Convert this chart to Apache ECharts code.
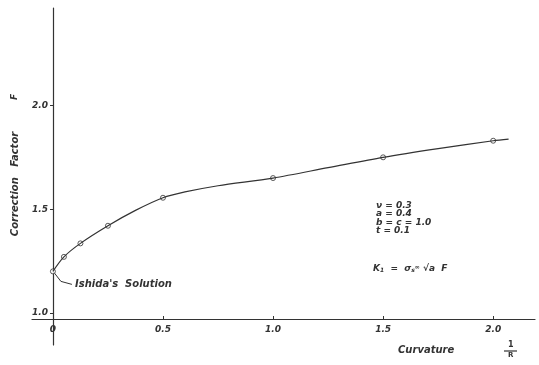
<!DOCTYPE html>
<html><head><meta charset="utf-8">
<script src="https://cdn.jsdelivr.net/npm/echarts@6/dist/echarts.min.js"></script>
<style>html,body{margin:0;padding:0;background:#fff}#c{width:539px;height:365px}</style>
</head><body><div id="c"></div>
<script>
// measured points (open circles)
const curvature = [0, 0.05, 0.125, 0.25, 0.5, 1.0, 1.5, 2.0];
const factorF = [1.20, 1.27, 1.335, 1.42, 1.555, 1.65, 1.75, 1.83];
// drawn curve
const curveX = [0, 0.05, 0.125, 0.25, 0.375, 0.5, 0.6, 0.75, 1.0, 1.25, 1.5, 1.75, 2.0, 2.07];
const curveF = [1.20, 1.27, 1.335, 1.42, 1.494, 1.555, 1.583, 1.613, 1.65, 1.70, 1.75, 1.792, 1.83, 1.838];
const xTicks = [0, 0.5, 1.0, 1.5, 2.0];
const xTickLabels = ['0', '0.5', '1.0', '1.5', '2.0'];
const yTicks = [1.0, 1.5, 2.0];
const yTickLabels = ['1.0', '1.5', '2.0'];
const params = ['ν = 0.3', 'a = 0.4', 'b = c = 1.0', 't = 0.1'];

const ink = '#333';
const fnt = 'DejaVu Sans';
const chart = echarts.init(document.getElementById('c'));

chart.setOption({
  backgroundColor: '#fff',
  animation: false,
  grid: {left: 32, right: 4, top: 8, bottom: 20},
  xAxis: {
    type: 'value', min: -0.095, max: 2.19,
    offset: -26,
    axisLine: {onZero: false, lineStyle: {color: ink, width: 1.2}},
    splitLine: {show: false},
    axisTick: {customValues: xTicks, length: 3, inside: true, lineStyle: {color: ink}},
    axisLabel: {customValues: xTicks, color: ink, fontFamily: fnt, fontStyle: 'italic', fontWeight: 'bold', fontSize: 9, margin: 6,
      formatter: v => xTickLabels[xTicks.indexOf(+v.toFixed(2))] || ''}
  },
  yAxis: {
    type: 'value', min: 0.845, max: 2.47,
    offset: -21,
    axisLine: {onZero: false, lineStyle: {color: ink, width: 1.2}},
    splitLine: {show: false},
    axisTick: {customValues: yTicks, length: 3, lineStyle: {color: ink}},
    axisLabel: {customValues: yTicks, color: ink, fontFamily: fnt, fontStyle: 'italic', fontWeight: 'bold', fontSize: 9, margin: 5,
      formatter: v => yTickLabels[yTicks.indexOf(+v.toFixed(2))] || ''}
  },
  series: [{
    type: 'line', smooth: 0.3,
    data: curveX.map((x, i) => [x, curveF[i]]),
    symbol: 'none',
    lineStyle: {color: ink, width: 1.2}
  }, {
    type: 'scatter',
    data: curvature.map((x, i) => [x, factorF[i]]),
    symbol: 'circle', symbolSize: 5,
    itemStyle: {color: '#fff', borderColor: ink, borderWidth: 1}
  }]
});

const p0 = chart.convertToPixel({gridIndex: 0}, [curvature[0], factorF[0]]);
const tf = (w, s) => 'italic ' + w + ' ' + s + 'px "DejaVu Sans"';
chart.setOption({
  graphic: [
    {type: 'polyline', shape: {points: [[p0[0] + 1, p0[1] + 1], [p0[0] + 8, p0[1] + 10], [p0[0] + 19, p0[1] + 13]]},
      style: {stroke: ink, fill: null, lineWidth: 1}},
    {type: 'text', left: 75, top: 279, style: {text: "Ishida's  Solution", fill: ink, font: tf('bold', 10)}},
    {type: 'text', left: 376, top: 201, style: {text: params.join('\n'), fill: ink, font: tf('bold', 9), lineHeight: 8.5}},
    {type: 'text', left: 373, top: 264, style: {rich: {
        n: {font: tf('bold', 9), fill: ink},
        s: {font: tf('bold', 6), fill: ink, verticalAlign: 'bottom'},
        p: {font: tf('bold', 6), fill: ink, verticalAlign: 'top'}
      }, text: '{n|K}{s|1}{n|  =  σ}{s|s}{p|∞}{n| √a  F}'}},
    {type: 'text', x: 15, y: 184, rotation: Math.PI / 2, style: {text: 'Correction   Factor', fill: ink, font: tf('bold', 10), align: 'center', verticalAlign: 'middle'}},
    {type: 'text', x: 15, y: 97, rotation: Math.PI / 2, style: {text: 'F', fill: ink, font: tf('bold', 9), align: 'center', verticalAlign: 'middle'}},
    {type: 'text', left: 398, top: 345, style: {text: 'Curvature', fill: ink, font: tf('bold', 10)}},
    {type: 'text', left: 508, top: 341, style: {text: '1', fill: ink, font: 'bold 8px "DejaVu Sans"'}},
    {type: 'line', shape: {x1: 504, y1: 351, x2: 517, y2: 351}, style: {stroke: ink, lineWidth: 1.2}},
    {type: 'text', left: 508, top: 352, style: {text: 'R', fill: ink, font: 'bold 7px "DejaVu Sans"'}}
  ]
});
</script></body></html>
